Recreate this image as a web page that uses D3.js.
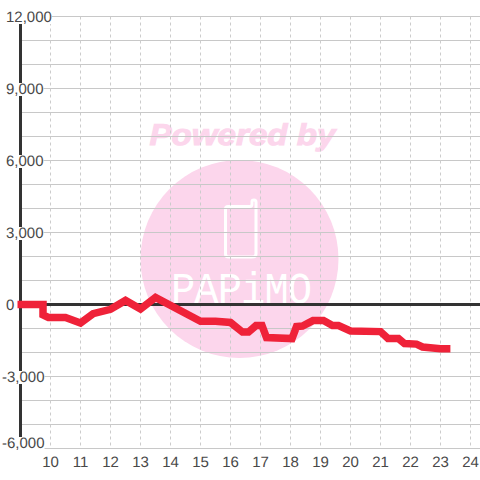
<!DOCTYPE html>
<html><head><meta charset="utf-8">
<script src="https://cdn.jsdelivr.net/npm/d3@7"></script>
<style>html,body{margin:0;padding:0;background:#fff}svg{display:block}text{font-family:"Liberation Sans",Arial,sans-serif;text-rendering:geometricPrecision}</style>
</head><body><div id="c"></div>
<script>
const hours=[8.9,9.75,9.75,9.93,10.5,11,11.42,12,12.5,13,13.5,15,15.5,16,16.4,16.6,16.85,17.05,17.2,18.05,18.2,18.4,18.75,19.1,19.4,19.6,20,21,21.25,21.6,21.8,22.2,22.4,23,23.33];
const values=[0,0,-430,-540,-540,-770,-380,-200,170,-190,290,-700,-700,-750,-1150,-1150,-880,-880,-1375,-1420,-920,-900,-670,-670,-880,-880,-1100,-1130,-1420,-1420,-1630,-1650,-1770,-1840,-1840];
const xTicks=[10,11,12,13,14,15,16,17,18,19,20,21,22,23,24];
const yGrid=[12000,11000,10000,9000,8000,7000,6000,5000,4000,3000,2000,1000,0,-1000,-2000,-3000,-4000,-5000,-6000];
const yLabels=[12000,9000,6000,3000,0,-3000,-6000];

const x=d3.scaleLinear().domain([9,24]).range([20.5,470.5]);
const y=d3.scaleLinear().domain([-6000,12000]).range([448.5,16.5]);
const svg=d3.select("#c").append("svg").attr("width",480).attr("height",480);
const pink="#fcd6ec";

// watermark
const wm=svg.append("g");
wm.append("text").attr("x",242.5).attr("y",145).attr("text-anchor","middle")
  .attr("font-size",30).attr("font-weight","bold").attr("font-style","italic")
  .attr("textLength",186).attr("lengthAdjust","spacingAndGlyphs")
  .attr("fill",pink).attr("stroke",pink).attr("stroke-width",1).text("Powered by");
wm.append("circle").attr("cx",239.5).attr("cy",259).attr("r",99).attr("fill",pink);
wm.append("path").attr("fill","none").attr("stroke","#fff").attr("stroke-width",3)
  .attr("stroke-linejoin","round").attr("stroke-linecap","round")
  .attr("d","M228 206.5H250Q252 206.5 252 204V201.5Q252 200 254 200Q256 200 256 202V254Q256 257 252 257H229Q225.500 257 225.500 254V209Q225.500 206.500 228 206.500Z");
wm.append("text").attr("transform","translate(171,303) scale(0.92,1)").attr("font-size",44)
  .style("font-family","Liberation Mono").attr("fill","#fff").attr("letter-spacing",-1).text("PAPiMO");

// grid
svg.append("g").selectAll("line").data(yGrid).join("line")
  .attr("x1",x(9)).attr("x2",480).attr("y1",d=>y(d)).attr("y2",d=>y(d))
  .attr("stroke","#c8c8c8").attr("stroke-width",1);
svg.append("g").selectAll("line").data(xTicks).join("line")
  .attr("x1",d=>x(d)).attr("x2",d=>x(d)).attr("y1",y(12000)).attr("y2",y(-6000))
  .attr("stroke","#ccc").attr("stroke-width",1).attr("stroke-dasharray","3 3");

// axes
svg.append("line").attr("x1",x(9)).attr("x2",x(9)).attr("y1",y(12000)).attr("y2",y(-6000))
  .attr("stroke","#333").attr("stroke-width",3);
svg.append("line").attr("x1",x(9)).attr("x2",480).attr("y1",y(0)).attr("y2",y(0))
  .attr("stroke","#333").attr("stroke-width",3);

// y labels with white background
const fmt=d3.format(",");
const yl=svg.append("g").selectAll("g").data(yLabels).join("g")
  .attr("transform",d=>`translate(0,${y(d)-(d===-6000?6:0)})`);
yl.append("text").attr("class","yt").attr("x",d=>d<0?2:6).attr("y",5.5)
  .attr("font-size",15).attr("fill","#484848").text(d=>fmt(d).replace("−","-"));
yl.each(function(){
  const g=d3.select(this),b=g.select("text").node().getBBox();
  g.insert("rect","text").attr("x",b.x).attr("y",-5.5).attr("width",b.width).attr("height",13).attr("fill","#fff");
});

// x labels
svg.append("g").selectAll("text").data(xTicks).join("text")
  .attr("x",d=>x(d)).attr("y",466.5).attr("text-anchor","middle")
  .attr("font-size",15).attr("fill","#484848").text(d=>d);

// series
const line=d3.line().x((d,i)=>x(hours[i])).y(d=>y(d));
svg.append("path").datum(values).attr("d",line).attr("fill","none")
  .attr("stroke","#ef2239").attr("stroke-width",7.5).attr("stroke-linejoin","miter");
</script></body></html>
